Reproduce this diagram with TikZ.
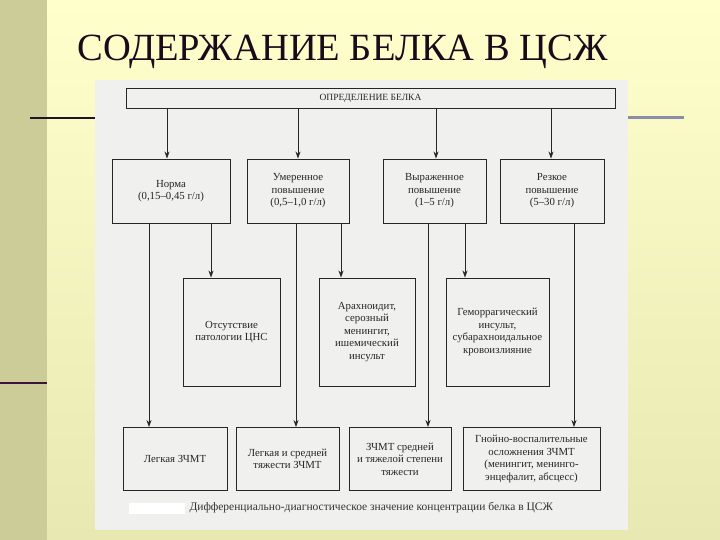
\documentclass[tikz,border=0pt]{standalone}
\usepackage{fontspec}
\setmainfont{Liberation Serif}
\usetikzlibrary{arrows.meta}
\definecolor{bgtop}{RGB}{255,255,204}
\definecolor{bgbot}{RGB}{232,232,178}
\definecolor{strip}{RGB}{204,204,153}
\definecolor{purp}{RGB}{60,20,60}
\definecolor{darkl}{RGB}{30,20,40}
\definecolor{grayb}{RGB}{140,140,170}
\definecolor{titc}{RGB}{26,10,26}
\definecolor{scan}{RGB}{240,240,238}
\begin{document}
\begin{tikzpicture}[x=1pt,y=-1pt,
  bx/.style={draw=black!85,line width=0.9pt,align=center,font=\fontsize{10.8}{12.5}\selectfont,text=black!85,inner sep=1pt},
  ar/.style={draw=black!85,line width=0.8pt,-{Stealth[length=7pt,width=5pt]}}]
\useasboundingbox (0,0) rectangle (720,540);
\shade[top color=bgtop,bottom color=bgbot] (0,0) rectangle (720,540);
\fill[strip] (0,0) rectangle (47,540);
\draw[line width=2pt,purp] (0,383) -- (47,383);
\draw[line width=1.5pt,darkl] (30,118) -- (96,118);
\draw[line width=3pt,grayb] (628,118) -- (684,118);
\node[font=\fontsize{38.5}{42}\selectfont,text=titc,anchor=west] (title) at (74,52) {СОДЕРЖАНИЕ БЕЛКА В ЦСЖ};
\fill[scan] (95,80) rectangle (628,530);
% top
\node[bx,minimum width=489,minimum height=20,font=\fontsize{9.5}{11}\selectfont] (top) at (370.5,98) {ОПРЕДЕЛЕНИЕ БЕЛКА};
% row 1
\node[bx,minimum width=118,minimum height=64] (n1) at (171,191) {Норма\\(0,15--0,45 г/л)};
\node[bx,minimum width=102,minimum height=64] (n2) at (298,191) {Умеренное\\повышение\\(0,5--1,0 г/л)};
\node[bx,minimum width=103,minimum height=64] (n3) at (434.5,191) {Выраженное\\повышение\\(1--5 г/л)};
\node[bx,minimum width=104,minimum height=64] (n4) at (552,191) {Резкое\\повышение\\(5--30 г/л)};
% row 2
\node[bx,minimum width=97,minimum height=108] (a) at (231.5,332) {Отсутствие\\патологии ЦНС};
\node[bx,minimum width=96,minimum height=108] (b) at (367,332) {Арахноидит,\\серозный\\менингит,\\ишемический\\инсульт};
\node[bx,minimum width=103,minimum height=108] (c) at (497.5,332) {Геморрагический\\инсульт,\\субарахноидальное\\кровоизлияние};
% row 3
\node[bx,minimum width=104,minimum height=63] (d1) at (175,459) {Легкая ЗЧМТ};
\node[bx,minimum width=103,minimum height=63] (d2) at (287.5,459) {Легкая и средней\\тяжести ЗЧМТ};
\node[bx,minimum width=102,minimum height=63] (d3) at (400,459) {ЗЧМТ средней\\и тяжелой степени\\тяжести};
\node[bx,minimum width=137,minimum height=63] (d4) at (531.5,459) {Гнойно-воспалительные\\осложнения ЗЧМТ\\(менингит, менинго-\\энцефалит, абсцесс)};
% arrows
\draw[ar] (top.south -| 167,0) -- (n1.north -| 167,0);
\draw[ar] (top.south -| 298,0) -- (n2.north -| 298,0);
\draw[ar] (top.south -| 436,0) -- (n3.north -| 436,0);
\draw[ar] (top.south -| 551,0) -- (n4.north -| 551,0);
\draw[ar] (n1.south -| 149,0) -- (d1.north -| 149,0);
\draw[ar] (n1.south -| 211,0) -- (a.north -| 211,0);
\draw[ar] (n2.south -| 296,0) -- (d2.north -| 296,0);
\draw[ar] (n2.south -| 341,0) -- (b.north -| 341,0);
\draw[ar] (n3.south -| 428,0) -- (d3.north -| 428,0);
\draw[ar] (n3.south -| 465,0) -- (c.north -| 465,0);
\draw[ar] (n4.south -| 574,0) -- (d4.north -| 574,0);
\fill[white] (129,503) rectangle (185,514);
\node[font=\fontsize{11.5}{13}\selectfont,text=black!80,anchor=west] (cap) at (186,508) {Дифференциально-диагностическое значение концентрации белка в ЦСЖ};
\end{tikzpicture}
\end{document}
